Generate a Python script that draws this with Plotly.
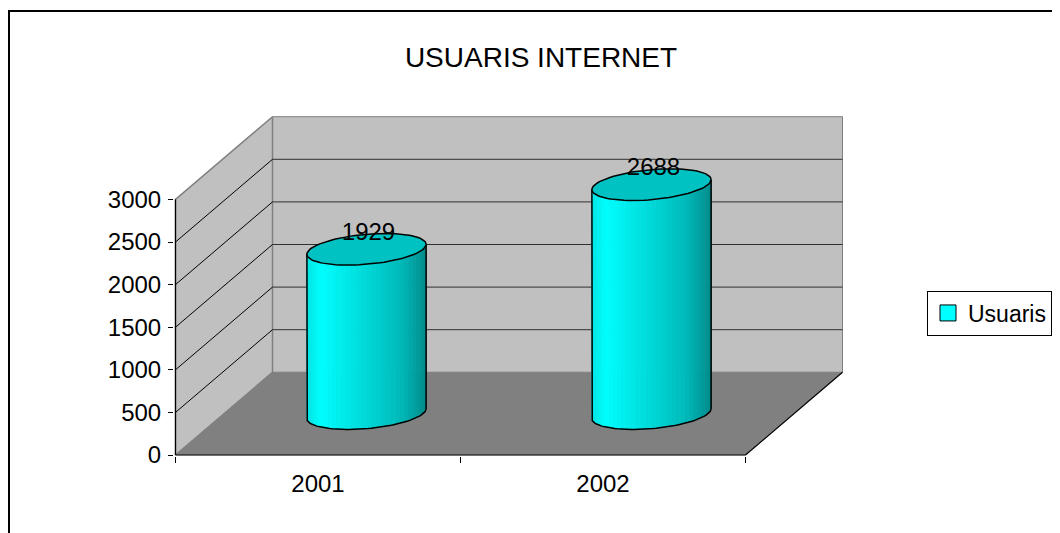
import numpy as np
import plotly.graph_objects as go

# ---------------- data ----------------
categories = ["2001", "2002"]
values = [1929, 2688]
series_name = "Usuaris"
y_ticks = [0, 500, 1000, 1500, 2000, 2500, 3000]
chart_title = "USUARIS INTERNET"

# ---------------- geometry / style ----------------
FONT = "Liberation Sans, Arial, sans-serif"
FS = 24
OFF = 8               # page body margin of the html page
W, H = 1060 - OFF, 533 - OFF
PX_CAT = 285.0        # pixels per category
PX_UNIT = 0.0852      # pixels per value unit
ML, MR, MT, MB = 166, 216, 107, 77
PLOT_W = W - ML - MR
PLOT_H = H - MT - MB
X0 = -0.5
X1 = len(categories) - 0.5
DX = 97 / PX_CAT      # depth offset (category units)
DY = 82.7 / PX_UNIT   # depth offset (value units)
YMAX = y_ticks[-1]
PAD_X = 1.5 / PX_CAT
xr = [X0 - PAD_X, X0 - PAD_X + PLOT_W / PX_CAT]
ybot = -1.0 / PX_UNIT
yr = [ybot, ybot + PLOT_H / PX_UNIT]

WALL = "#c0c0c0"
FLOOR = "#808080"
EDGE = "#808080"

fig = go.Figure()


def poly(xs, ys, fill, line_color=None, width=0.0):
    xs = list(xs) + [xs[0]]
    ys = list(ys) + [ys[0]]
    fig.add_trace(go.Scatter(
        x=xs, y=ys, mode="lines", fill="toself", fillcolor=fill,
        line=dict(color=line_color or fill, width=width),
        hoverinfo="skip", showlegend=False))


def lines(segs, color, width=1.0):
    xs, ys = [], []
    for (xa, ya), (xb, yb) in segs:
        xs += [xa, xb, None]
        ys += [ya, yb, None]
    fig.add_trace(go.Scatter(x=xs, y=ys, mode="lines",
                             line=dict(color=color, width=width),
                             hoverinfo="skip", showlegend=False))


# walls and floor
poly([X0 + DX, X1 + DX, X1 + DX, X0 + DX], [DY, DY, YMAX + DY, YMAX + DY], WALL, EDGE, 1)
poly([X0, X0 + DX, X0 + DX, X0], [0, DY, YMAX + DY, YMAX], WALL, EDGE, 1.5)
poly([X0, X1, X1 + DX, X0 + DX], [0, 0, DY, DY], FLOOR, FLOOR, 0.5)

# gridlines
lines([((X0 + DX, v + DY), (X1 + DX, v + DY)) for v in y_ticks[1:-1]], "#303030", 1)
lines([((X0, v), (X0 + DX, v + DY)) for v in y_ticks[1:-1]], "#000000", 1)
# front axes and right floor edge
lines([((X0, 0), (X0, YMAX)), ((X0, 0), (X1, 0)), ((X1, 0), (X1 + DX, DY))], "#000000", 1.2)

# ---------------- cylinders ----------------
A = 59.6 / PX_CAT          # half width (category units)
B = 15.0 / PX_UNIT         # ellipse half height (value units)
S = 5.0 / PX_UNIT          # tilt of the ellipse
NSTRIP = 36

stops = [(0.0, 228), (0.12, 255), (0.45, 222), (0.8, 185), (1.0, 140)]


def shade(f):
    for (fa, ca), (fb, cb) in zip(stops[:-1], stops[1:]):
        if fa <= f <= fb:
            c = ca + (cb - ca) * (f - fa) / (fb - fa)
            return f"rgb(0,{int(c)},{int(c)})"
    return "rgb(0,140,140)"


def ell(cx, cy, t):
    return cx + A * np.cos(t), cy + B * np.sin(t) + S * np.cos(t)


for i, v in enumerate(values):
    cx = i + DX / 2
    base = DY / 2
    top = v + DY / 2
    ts = np.linspace(np.pi, 2 * np.pi, NSTRIP + 1)
    for k in range(NSTRIP):
        ta, tb = ts[k], ts[k + 1] + 0.004
        bxa, bya = ell(cx, base, ta)
        bxb, byb = ell(cx, base, tb)
        txa, tya = ell(cx, top, ta)
        txb, tyb = ell(cx, top, tb)
        f = ((bxa + bxb) / 2 - (cx - A)) / (2 * A)
        col = shade(f)
        poly([bxa, bxb, txb, txa], [bya, byb, tyb, tya], col, col, 0.6)
    # outline body
    tt = np.linspace(np.pi, 2 * np.pi, 60)
    bx, by = ell(cx, base, tt)
    lx = [cx - A] + list(bx) + [cx + A]
    ly = [top - S] + list(by) + [top + S]
    fig.add_trace(go.Scatter(x=lx, y=ly, mode="lines", line=dict(color="black", width=1.5),
                             hoverinfo="skip", showlegend=False))
    # top cap
    tc = np.linspace(0, 2 * np.pi, 90)
    ex, ey = ell(cx, top, tc)
    poly(list(ex), list(ey), "rgb(0,194,194)", "black", 1.5)

# data labels
fig.add_trace(go.Scatter(
    x=[i + DX / 2 + 2 / PX_CAT for i in range(len(values))],
    y=[v + DY / 2 + 15.5 / PX_UNIT for v in values],
    text=[str(v) for v in values], mode="text", textposition="middle center",
    textfont=dict(family=FONT, size=FS, color="black"),
    hoverinfo="skip", showlegend=False, cliponaxis=False))

# legend entry
fig.add_trace(go.Scatter(
    x=[None], y=[None], mode="markers", name=series_name,
    marker=dict(symbol="square", size=16, color="#00ffff", line=dict(color="black", width=1)),
    showlegend=True))


def px2paper_x(px):
    # px: screen pixel of the reference picture
    return (px - OFF - ML) / PLOT_W


def px2paper_y(py):
    return (H - MB - (py - OFF)) / PLOT_H


fig.update_layout(
    width=W, height=H,
    margin=dict(l=ML, r=MR, t=MT, b=MB, autoexpand=False),
    paper_bgcolor="white", plot_bgcolor="rgba(0,0,0,0)",
    font=dict(family=FONT, size=FS, color="black"),
    title=dict(text=chart_title, x=(541 - OFF) / W, xanchor="center",
               y=1 - (57 - OFF) / H, yanchor="middle",
               xref="container", yref="container",
               font=dict(family=FONT, size=28, color="black")),
    xaxis=dict(range=xr, showgrid=False, zeroline=False, showline=False,
               tickmode="array", tickvals=list(range(len(categories))), ticktext=categories,
               ticks="", ticklabelstandoff=11,
               minor=dict(tickmode="array", tickvals=[X0 + k for k in range(len(categories) + 1)],
                          ticks="outside", ticklen=6, tickcolor="black", tickwidth=1),
               tickfont=dict(family=FONT, size=FS, color="black")),
    yaxis=dict(range=yr, showgrid=False, zeroline=False, showline=False,
               tickmode="array", tickvals=y_ticks, ticktext=[str(t) for t in y_ticks],
               ticks="outside", ticklen=5, tickcolor="black", tickwidth=1, ticklabelstandoff=2,
               tickfont=dict(family=FONT, size=FS, color="black")),
    legend=dict(x=px2paper_x(927), y=px2paper_y(290.5), xanchor="left", yanchor="top",
                bordercolor="black", borderwidth=1, bgcolor="white",
                font=dict(family=FONT, size=23, color="black")),
    shapes=[dict(type="rect", xref="paper", yref="paper",
                 x0=px2paper_x(9), x1=px2paper_x(1080),
                 y0=px2paper_y(560), y1=px2paper_y(11),
                 line=dict(color="black", width=2), fillcolor="rgba(0,0,0,0)")],
)

fig.write_html("out.html")
